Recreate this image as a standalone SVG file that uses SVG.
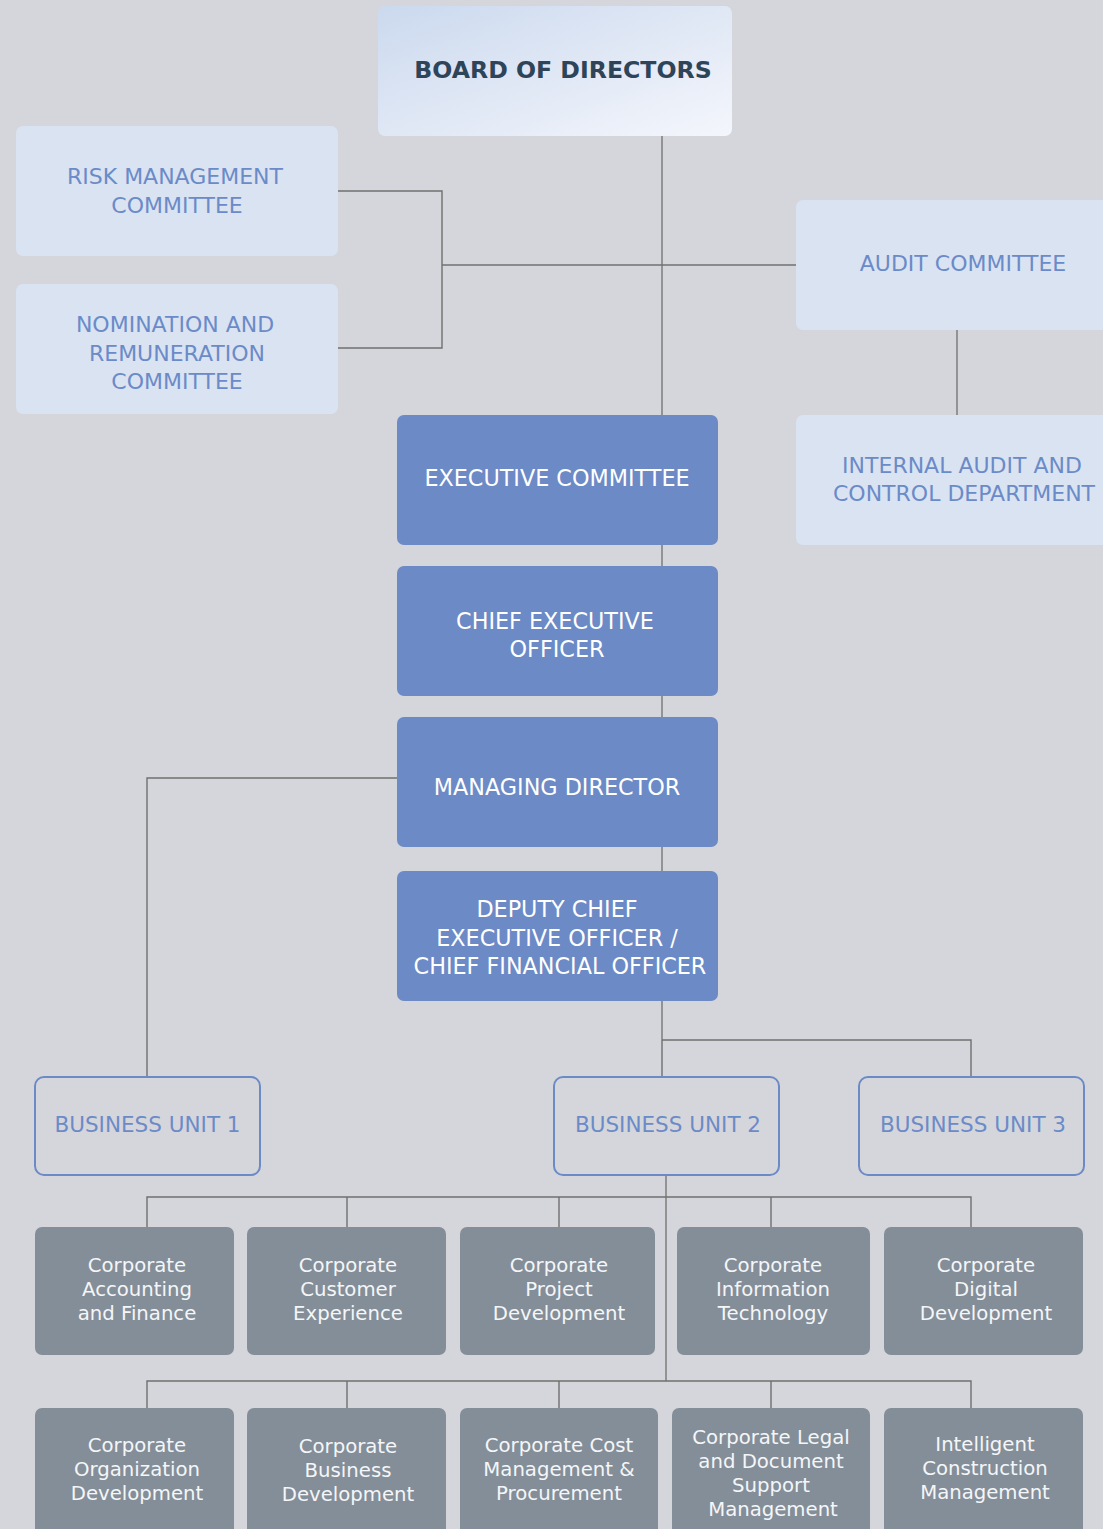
<svg xmlns="http://www.w3.org/2000/svg" width="1103" height="1529" viewBox="0 0 1103 1529">
  <defs>
    <linearGradient id="boardFill" x1="0" y1="0" x2="1" y2="1">
      <stop offset="0" stop-color="#cbd9ee"/>
      <stop offset="1" stop-color="#f4f6fc"/>
    </linearGradient>
    <style>
      .bg { fill: #d5d6db; }
      .light { fill: #dae3f1; }
      .dark { fill: #6b8ac6; }
      .unit { fill: none; stroke: #6b8ac6; stroke-width: 2; }
      .dept { fill: #848e99; }
      .wire { fill: none; stroke: #707070; stroke-width: 1.4; }
      .spine { fill: none; stroke: #8c8c8c; stroke-width: 1.8; }
      text { font-family: "DejaVu Sans", "Liberation Sans", sans-serif; text-anchor: middle; }
      .t-board { font-size: 23.6px; font-weight: bold; fill: #2e4459; }
      .t-light { font-size: 22px; fill: #6b8bc8; }
      .t-dark { font-size: 22.3px; fill: #ffffff; }
      .t-unit { font-size: 21.5px; fill: #6b8bc8; }
      .t-dept { font-size: 19.7px; fill: #f4f6f8; }
    </style>
  </defs>

  <rect class="bg" x="0" y="0" width="1103" height="1529"/>

  <!-- connectors -->
  <g id="connectors">
    <line class="spine" x1="662" y1="136" x2="662" y2="1040"/>
    <path class="wire" d="M338 191 H442 V348 H338"/>
    <line class="wire" x1="442" y1="265" x2="796" y2="265"/>
    <line class="spine" x1="957" y1="330" x2="957" y2="415"/>
    <path class="wire" d="M397 778 H147 V1076"/>
    <path class="wire" d="M662 1040 V1076 M662 1040 H971 V1076"/>
    <line class="spine" x1="666" y1="1175" x2="666" y2="1381"/>
    <path class="wire" d="M147 1227 V1197 H971 V1227 M347 1197 V1227 M559 1197 V1227 M771 1197 V1227"/>
    <path class="wire" d="M147 1408 V1381 H971 V1408 M347 1381 V1408 M559 1381 V1408 M771 1381 V1408"/>
  </g>

  <!-- governance -->
  <g id="board">
    <rect x="378" y="6" width="354" height="130" rx="7" fill="url(#boardFill)"/>
    <text class="t-board" x="563" y="78">BOARD OF DIRECTORS</text>
  </g>
  <g id="risk-committee">
    <rect class="light" x="16" y="126" width="322" height="130" rx="7"/>
    <text class="t-light" x="175" y="183.5">RISK MANAGEMENT</text>
    <text class="t-light" x="177" y="212.5">COMMITTEE</text>
  </g>
  <g id="nomination-committee">
    <rect class="light" x="16" y="284" width="322" height="130" rx="7"/>
    <text class="t-light" x="175" y="331.5">NOMINATION AND</text>
    <text class="t-light" x="177" y="360.5">REMUNERATION</text>
    <text class="t-light" x="177" y="389">COMMITTEE</text>
  </g>
  <g id="audit-committee">
    <rect class="light" x="796" y="200" width="330" height="130" rx="7"/>
    <text class="t-light" x="963" y="270.5">AUDIT COMMITTEE</text>
  </g>
  <g id="internal-audit">
    <rect class="light" x="796" y="415" width="330" height="130" rx="7"/>
    <text class="t-light" x="962" y="472.5">INTERNAL AUDIT AND</text>
    <text class="t-light" x="964" y="500.5">CONTROL DEPARTMENT</text>
  </g>

  <!-- executive line -->
  <g id="executive-committee">
    <rect class="dark" x="397" y="415" width="321" height="130" rx="7"/>
    <text class="t-dark" x="557" y="486">EXECUTIVE COMMITTEE</text>
  </g>
  <g id="ceo">
    <rect class="dark" x="397" y="566" width="321" height="130" rx="7"/>
    <text class="t-dark" x="555" y="629">CHIEF EXECUTIVE</text>
    <text class="t-dark" x="557" y="657">OFFICER</text>
  </g>
  <g id="managing-director">
    <rect class="dark" x="397" y="717" width="321" height="130" rx="7"/>
    <text class="t-dark" x="557" y="795">MANAGING DIRECTOR</text>
  </g>
  <g id="deputy-ceo-cfo">
    <rect class="dark" x="397" y="871" width="321" height="130" rx="7"/>
    <text class="t-dark" x="557" y="916.5">DEPUTY CHIEF</text>
    <text class="t-dark" x="557" y="945.5">EXECUTIVE OFFICER /</text>
    <text class="t-dark" x="560" y="974">CHIEF FINANCIAL OFFICER</text>
  </g>

  <!-- business units -->
  <g id="business-unit-1">
    <rect class="unit" x="35" y="1077" width="225" height="98" rx="9"/>
    <text class="t-unit" x="147.5" y="1131.5">BUSINESS UNIT 1</text>
  </g>
  <g id="business-unit-2">
    <rect class="unit" x="554" y="1077" width="225" height="98" rx="9"/>
    <text class="t-unit" x="668" y="1131.5">BUSINESS UNIT 2</text>
  </g>
  <g id="business-unit-3">
    <rect class="unit" x="859" y="1077" width="225" height="98" rx="9"/>
    <text class="t-unit" x="973" y="1131.5">BUSINESS UNIT 3</text>
  </g>

  <!-- corporate departments, first row -->
  <g id="dept-accounting-finance">
    <rect class="dept" x="35" y="1227" width="199" height="128" rx="7"/>
    <text class="t-dept" x="137" y="1272">Corporate</text>
    <text class="t-dept" x="137" y="1296">Accounting</text>
    <text class="t-dept" x="137" y="1320">and Finance</text>
  </g>
  <g id="dept-customer-experience">
    <rect class="dept" x="247" y="1227" width="199" height="128" rx="7"/>
    <text class="t-dept" x="348" y="1272">Corporate</text>
    <text class="t-dept" x="348" y="1296">Customer</text>
    <text class="t-dept" x="348" y="1320">Experience</text>
  </g>
  <g id="dept-project-development">
    <rect class="dept" x="460" y="1227" width="195" height="128" rx="7"/>
    <text class="t-dept" x="559" y="1272">Corporate</text>
    <text class="t-dept" x="559" y="1296">Project</text>
    <text class="t-dept" x="559" y="1320">Development</text>
  </g>
  <g id="dept-information-technology">
    <rect class="dept" x="677" y="1227" width="193" height="128" rx="7"/>
    <text class="t-dept" x="773" y="1272">Corporate</text>
    <text class="t-dept" x="773" y="1296">Information</text>
    <text class="t-dept" x="773" y="1320">Technology</text>
  </g>
  <g id="dept-digital-development">
    <rect class="dept" x="884" y="1227" width="199" height="128" rx="7"/>
    <text class="t-dept" x="986" y="1272">Corporate</text>
    <text class="t-dept" x="986" y="1296">Digital</text>
    <text class="t-dept" x="986" y="1320">Development</text>
  </g>

  <!-- corporate departments, second row -->
  <g id="dept-organization-development">
    <rect class="dept" x="35" y="1408" width="199" height="140" rx="7"/>
    <text class="t-dept" x="137" y="1452">Corporate</text>
    <text class="t-dept" x="137" y="1476">Organization</text>
    <text class="t-dept" x="137" y="1500">Development</text>
  </g>
  <g id="dept-business-development">
    <rect class="dept" x="247" y="1408" width="199" height="140" rx="7"/>
    <text class="t-dept" x="348" y="1453">Corporate</text>
    <text class="t-dept" x="348" y="1477">Business</text>
    <text class="t-dept" x="348" y="1501">Development</text>
  </g>
  <g id="dept-cost-procurement">
    <rect class="dept" x="460" y="1408" width="198" height="140" rx="7"/>
    <text class="t-dept" x="559" y="1452">Corporate Cost</text>
    <text class="t-dept" x="559" y="1476">Management &amp;</text>
    <text class="t-dept" x="559" y="1500">Procurement</text>
  </g>
  <g id="dept-legal-document">
    <rect class="dept" x="672" y="1408" width="198" height="140" rx="7"/>
    <text class="t-dept" x="771" y="1444">Corporate Legal</text>
    <text class="t-dept" x="771" y="1468">and Document</text>
    <text class="t-dept" x="771" y="1492">Support</text>
    <text class="t-dept" x="773" y="1516">Management</text>
  </g>
  <g id="dept-intelligent-construction">
    <rect class="dept" x="884" y="1408" width="199" height="140" rx="7"/>
    <text class="t-dept" x="985" y="1451">Intelligent</text>
    <text class="t-dept" x="985" y="1475">Construction</text>
    <text class="t-dept" x="985" y="1499">Management</text>
  </g>
</svg>
